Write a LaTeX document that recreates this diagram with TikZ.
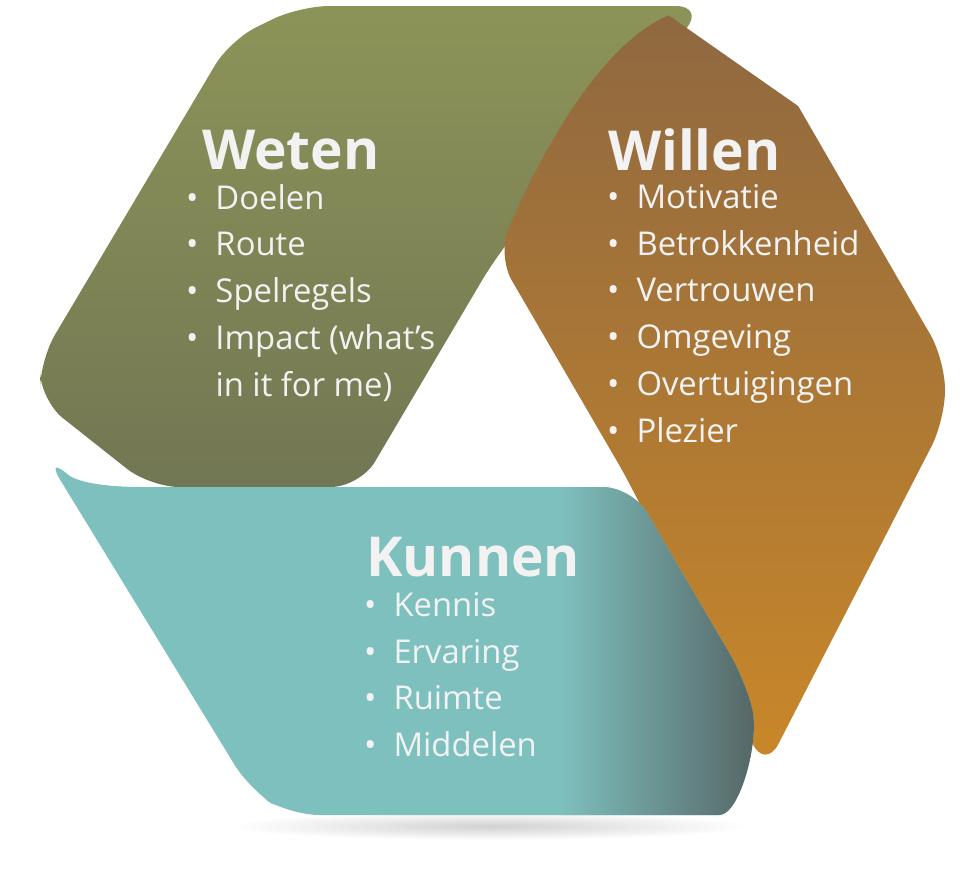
\documentclass[tikz,border=0pt]{standalone}
\usepackage{fontspec}
\setmainfont{Open Sans}
\definecolor{gA}{RGB}{163,172,92}
\definecolor{gB}{RGB}{95,98,80}
\definecolor{oA}{RGB}{222,146,32}
\definecolor{oB}{RGB}{125,95,72}
\definecolor{tA}{RGB}{126,192,190}
\definecolor{tB}{RGB}{85,100,100}
\definecolor{txt}{RGB}{242,242,242}
\tikzset{head/.style={text=txt,font=\fontsize{47}{50}\selectfont\bfseries,anchor=west},
 item/.style={text=txt,font=\fontsize{28}{40}\selectfont,anchor=north west,align=left}}
\begin{document}
\begin{tikzpicture}[x=0.3mm,y=-0.3mm]
\useasboundingbox (0,0) rectangle (980,873);
% shadow
\shade[inner color=black!18,outer color=white] (490,826) ellipse (260 and 14);
% green band
\begin{scope}
\clip[rounded corners=25]
 (300,6) -- (705,6) -- (497,255) -- (360,487) -- (150,487) -- (40,400) -- (40,360) -- (230,40) -- cycle;
\shade[top color=gA,middle color=gA,bottom color=gB,rotate around={25:(300,300)}] (-400,-100) rectangle (1100,560);
\end{scope}
% orange band
\begin{scope}
\clip[rounded corners=25]
 (700,8) -- (760,40) -- (945,360) -- (945,420) -- (765,770) -- (632,487) -- (497,255)
 .. controls (560,110) and (630,10) .. (700,8);
\shade[top color=oB,middle color=oA,bottom color=oA,rotate around={-35:(650,100)}] (200,20) rectangle (1400,720);
\end{scope}
% teal band
\begin{scope}
\clip[rounded corners=25]
 (45,455) .. controls (80,485) and (120,487) .. (170,487) -- (632,487) -- (745,680)
 .. controls (760,740) and (740,815) .. (690,815) -- (290,815) -- (250,790) -- cycle;
\fill[tA] (0,450) rectangle (780,830);
\shade[left color=tA,right color=tB] (560,450) rectangle (760,830);
\end{scope}
% text
\node[head] (weten) at (198,150) {Weten};
\node[item] (wl) at (182,180) {•\ \ Doelen\\•\ \ Route\\•\ \ Spelregels\\•\ \ Impact (what’s\\\phantom{•\ \ }in it for me)};
\node[head] (willen) at (604,150) {Willen};
\node[item] (il) at (603,180) {•\ \ Motivatie\\•\ \ Betrokkenheid\\•\ \ Vertrouwen\\•\ \ Omgeving\\•\ \ Overtuigingen\\•\ \ Plezier};
\node[head] (kunnen) at (362,557) {Kunnen};
\node[item] (kl) at (360,588) {•\ \ Kennis\\•\ \ Ervaring\\•\ \ Ruimte\\•\ \ Middelen};
\end{tikzpicture}
\end{document}
